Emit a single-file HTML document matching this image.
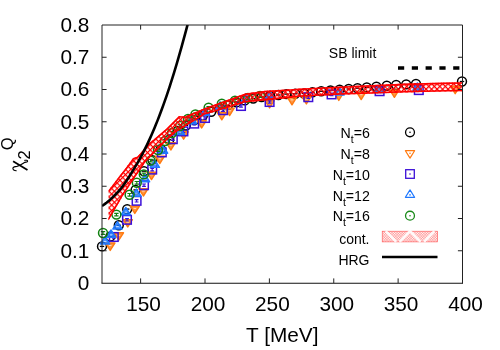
<!DOCTYPE html><html><head><meta charset="utf-8"><style>
html,body{margin:0;padding:0;background:#fff;}body{width:500px;height:350px;overflow:hidden;}
svg{display:block;font-family:"Liberation Sans",sans-serif;}text{filter:grayscale(1);}
</style></head><body>
<svg width="500" height="350" viewBox="0 0 500 350">
<defs><pattern id="hx" width="3.9" height="3.9" patternUnits="userSpaceOnUse" patternTransform="translate(111.65,187.64) rotate(45)"><path d="M0 0H3.9M0 0V3.9" stroke="#ff0000" stroke-width="2.5" fill="none"/></pattern>
<pattern id="hl" width="1.8" height="1.8" patternUnits="userSpaceOnUse" patternTransform="rotate(45)"><path d="M0 0H1.8M0 0V1.8" stroke="#ff2020" stroke-width="0.5" fill="none"/></pattern>
<clipPath id="cp"><rect x="102.0" y="25.0" width="360.5" height="258.0"/></clipPath></defs>
<rect width="500" height="350" fill="#fff"/>
<path d="M99.8 246.4H104.2" stroke="#000000" stroke-width="1.3" fill="none"/><circle cx="102.0" cy="246.4" r="4.45" fill="none" stroke="#000000" stroke-width="1.5"/>
<path d="M108.2 236.5H112.6" stroke="#000000" stroke-width="1.3" fill="none"/><circle cx="110.4" cy="236.5" r="4.45" fill="none" stroke="#000000" stroke-width="1.5"/>
<path d="M116.6 225.3H121.0" stroke="#000000" stroke-width="1.3" fill="none"/><circle cx="118.8" cy="225.3" r="4.45" fill="none" stroke="#000000" stroke-width="1.5"/>
<path d="M125.0 209.1H129.4" stroke="#000000" stroke-width="1.3" fill="none"/><circle cx="127.2" cy="209.1" r="4.45" fill="none" stroke="#000000" stroke-width="1.5"/>
<path d="M133.4 189.9H137.8" stroke="#000000" stroke-width="1.3" fill="none"/><circle cx="135.6" cy="189.9" r="4.45" fill="none" stroke="#000000" stroke-width="1.5"/>
<path d="M141.8 171.2H146.2" stroke="#000000" stroke-width="1.3" fill="none"/><circle cx="144.0" cy="171.2" r="4.45" fill="none" stroke="#000000" stroke-width="1.5"/>
<path d="M150.2 160.1H154.6" stroke="#000000" stroke-width="1.3" fill="none"/><circle cx="152.4" cy="160.1" r="4.45" fill="none" stroke="#000000" stroke-width="1.5"/>
<path d="M158.6 149.1H163.0" stroke="#000000" stroke-width="1.3" fill="none"/><circle cx="160.8" cy="149.1" r="4.45" fill="none" stroke="#000000" stroke-width="1.5"/>
<path d="M167.0 139.7H171.4" stroke="#000000" stroke-width="1.3" fill="none"/><circle cx="169.2" cy="139.7" r="4.45" fill="none" stroke="#000000" stroke-width="1.5"/>
<path d="M175.4 131.0H179.8" stroke="#000000" stroke-width="1.3" fill="none"/><circle cx="177.6" cy="131.0" r="4.45" fill="none" stroke="#000000" stroke-width="1.5"/>
<path d="M183.8 125.5H188.2" stroke="#000000" stroke-width="1.3" fill="none"/><circle cx="186.0" cy="125.5" r="4.45" fill="none" stroke="#000000" stroke-width="1.5"/>
<path d="M192.2 120.0H196.6" stroke="#000000" stroke-width="1.3" fill="none"/><circle cx="194.4" cy="120.0" r="4.45" fill="none" stroke="#000000" stroke-width="1.5"/>
<path d="M200.6 115.7H205.0" stroke="#000000" stroke-width="1.3" fill="none"/><circle cx="202.8" cy="115.7" r="4.45" fill="none" stroke="#000000" stroke-width="1.5"/>
<path d="M209.0 111.7H213.4" stroke="#000000" stroke-width="1.3" fill="none"/><circle cx="211.2" cy="111.7" r="4.45" fill="none" stroke="#000000" stroke-width="1.5"/>
<path d="M217.4 108.2H221.8" stroke="#000000" stroke-width="1.3" fill="none"/><circle cx="219.6" cy="108.2" r="4.45" fill="none" stroke="#000000" stroke-width="1.5"/>
<path d="M225.8 105.3H230.2" stroke="#000000" stroke-width="1.3" fill="none"/><circle cx="228.0" cy="105.3" r="4.45" fill="none" stroke="#000000" stroke-width="1.5"/>
<path d="M234.2 102.4H238.6" stroke="#000000" stroke-width="1.3" fill="none"/><circle cx="236.4" cy="102.4" r="4.45" fill="none" stroke="#000000" stroke-width="1.5"/>
<path d="M242.6 100.4H247.0" stroke="#000000" stroke-width="1.3" fill="none"/><circle cx="244.8" cy="100.4" r="4.45" fill="none" stroke="#000000" stroke-width="1.5"/>
<path d="M251.0 98.5H255.4" stroke="#000000" stroke-width="1.3" fill="none"/><circle cx="253.2" cy="98.5" r="4.45" fill="none" stroke="#000000" stroke-width="1.5"/>
<path d="M259.4 97.0H263.8" stroke="#000000" stroke-width="1.3" fill="none"/><circle cx="261.6" cy="97.0" r="4.45" fill="none" stroke="#000000" stroke-width="1.5"/>
<path d="M267.8 96.0H272.2" stroke="#000000" stroke-width="1.3" fill="none"/><circle cx="270.0" cy="96.0" r="4.45" fill="none" stroke="#000000" stroke-width="1.5"/>
<path d="M276.2 95.0H280.6" stroke="#000000" stroke-width="1.3" fill="none"/><circle cx="278.4" cy="95.0" r="4.45" fill="none" stroke="#000000" stroke-width="1.5"/>
<path d="M284.2 94.1H288.6" stroke="#000000" stroke-width="1.3" fill="none"/><circle cx="286.4" cy="94.1" r="4.45" fill="none" stroke="#000000" stroke-width="1.5"/>
<path d="M293.0 93.8H297.4" stroke="#000000" stroke-width="1.3" fill="none"/><circle cx="295.2" cy="93.8" r="4.45" fill="none" stroke="#000000" stroke-width="1.5"/>
<path d="M301.8 93.5H306.2" stroke="#000000" stroke-width="1.3" fill="none"/><circle cx="304.0" cy="93.5" r="4.45" fill="none" stroke="#000000" stroke-width="1.5"/>
<path d="M310.2 92.3H314.6" stroke="#000000" stroke-width="1.3" fill="none"/><circle cx="312.4" cy="92.3" r="4.45" fill="none" stroke="#000000" stroke-width="1.5"/>
<path d="M319.0 91.3H323.4" stroke="#000000" stroke-width="1.3" fill="none"/><circle cx="321.2" cy="91.3" r="4.45" fill="none" stroke="#000000" stroke-width="1.5"/>
<path d="M328.3 90.5H332.7" stroke="#000000" stroke-width="1.3" fill="none"/><circle cx="330.5" cy="90.5" r="4.45" fill="none" stroke="#000000" stroke-width="1.5"/>
<path d="M337.4 89.8H341.8" stroke="#000000" stroke-width="1.3" fill="none"/><circle cx="339.6" cy="89.8" r="4.45" fill="none" stroke="#000000" stroke-width="1.5"/>
<path d="M346.5 89.0H350.9" stroke="#000000" stroke-width="1.3" fill="none"/><circle cx="348.7" cy="89.0" r="4.45" fill="none" stroke="#000000" stroke-width="1.5"/>
<path d="M355.3 88.2H359.7" stroke="#000000" stroke-width="1.3" fill="none"/><circle cx="357.5" cy="88.2" r="4.45" fill="none" stroke="#000000" stroke-width="1.5"/>
<path d="M364.6 87.4H369.0" stroke="#000000" stroke-width="1.3" fill="none"/><circle cx="366.8" cy="87.4" r="4.45" fill="none" stroke="#000000" stroke-width="1.5"/>
<path d="M374.2 86.6H378.6" stroke="#000000" stroke-width="1.3" fill="none"/><circle cx="376.4" cy="86.6" r="4.45" fill="none" stroke="#000000" stroke-width="1.5"/>
<path d="M384.6 85.7H389.0" stroke="#000000" stroke-width="1.3" fill="none"/><circle cx="386.8" cy="85.7" r="4.45" fill="none" stroke="#000000" stroke-width="1.5"/>
<path d="M394.0 85.0H398.4" stroke="#000000" stroke-width="1.3" fill="none"/><circle cx="396.2" cy="85.0" r="4.45" fill="none" stroke="#000000" stroke-width="1.5"/>
<path d="M404.0 84.4H408.4" stroke="#000000" stroke-width="1.3" fill="none"/><circle cx="406.2" cy="84.4" r="4.45" fill="none" stroke="#000000" stroke-width="1.5"/>
<path d="M413.8 83.9H418.2" stroke="#000000" stroke-width="1.3" fill="none"/><circle cx="416.0" cy="83.9" r="4.45" fill="none" stroke="#000000" stroke-width="1.5"/>
<path d="M459.8 81.5H464.2" stroke="#000000" stroke-width="1.3" fill="none"/><circle cx="462.0" cy="81.5" r="4.45" fill="none" stroke="#000000" stroke-width="1.5"/>
<polygon points="110.2,250.4 105.5,243.0 114.9,243.0" fill="#ff7a10" fill-opacity="0.78" stroke="#ff7a10" stroke-width="1.4" stroke-linejoin="round"/><path d="M108.9 245.5H111.5" stroke="#fff" stroke-opacity="0.7" stroke-width="0.9"/>
<polygon points="118.8,240.2 114.1,232.8 123.5,232.8" fill="#ff7a10" fill-opacity="0.78" stroke="#ff7a10" stroke-width="1.4" stroke-linejoin="round"/><path d="M117.5 235.3H120.1" stroke="#fff" stroke-opacity="0.7" stroke-width="0.9"/>
<polygon points="127.8,227.0 123.1,219.6 132.4,219.6" fill="#ff7a10" fill-opacity="0.78" stroke="#ff7a10" stroke-width="1.4" stroke-linejoin="round"/><path d="M126.5 222.1H129.1" stroke="#fff" stroke-opacity="0.7" stroke-width="0.9"/>
<polygon points="134.8,213.4 130.2,206.0 139.5,206.0" fill="#ff7a10" fill-opacity="0.78" stroke="#ff7a10" stroke-width="1.4" stroke-linejoin="round"/><path d="M133.5 208.5H136.1" stroke="#fff" stroke-opacity="0.7" stroke-width="0.9"/>
<polygon points="143.4,196.0 138.8,188.6 148.1,188.6" fill="#ff7a10" fill-opacity="0.78" stroke="#ff7a10" stroke-width="1.4" stroke-linejoin="round"/><path d="M142.1 191.1H144.7" stroke="#fff" stroke-opacity="0.7" stroke-width="0.9"/>
<polygon points="151.5,179.6 146.8,172.2 156.2,172.2" fill="#ff7a10" fill-opacity="0.78" stroke="#ff7a10" stroke-width="1.4" stroke-linejoin="round"/><path d="M150.2 174.7H152.8" stroke="#fff" stroke-opacity="0.7" stroke-width="0.9"/>
<polygon points="159.8,163.6 155.2,156.2 164.5,156.2" fill="#ff7a10" fill-opacity="0.78" stroke="#ff7a10" stroke-width="1.4" stroke-linejoin="round"/><path d="M158.5 158.7H161.1" stroke="#fff" stroke-opacity="0.7" stroke-width="0.9"/>
<polygon points="170.8,150.0 166.2,142.6 175.5,142.6" fill="#ff7a10" fill-opacity="0.78" stroke="#ff7a10" stroke-width="1.4" stroke-linejoin="round"/><path d="M169.5 145.1H172.1" stroke="#fff" stroke-opacity="0.7" stroke-width="0.9"/>
<polygon points="183.6,139.2 178.9,131.8 188.2,131.8" fill="#ff7a10" fill-opacity="0.78" stroke="#ff7a10" stroke-width="1.4" stroke-linejoin="round"/><path d="M182.3 134.3H184.9" stroke="#fff" stroke-opacity="0.7" stroke-width="0.9"/>
<polygon points="201.7,128.0 197.0,120.6 206.3,120.6" fill="#ff7a10" fill-opacity="0.78" stroke="#ff7a10" stroke-width="1.4" stroke-linejoin="round"/><path d="M200.4 123.1H203.0" stroke="#fff" stroke-opacity="0.7" stroke-width="0.9"/>
<polygon points="221.8,119.8 217.2,112.4 226.5,112.4" fill="#ff7a10" fill-opacity="0.78" stroke="#ff7a10" stroke-width="1.4" stroke-linejoin="round"/><path d="M220.5 114.9H223.1" stroke="#fff" stroke-opacity="0.7" stroke-width="0.9"/>
<polygon points="229.6,115.6 224.9,108.2 234.2,108.2" fill="#ff7a10" fill-opacity="0.78" stroke="#ff7a10" stroke-width="1.4" stroke-linejoin="round"/><path d="M228.3 110.7H230.9" stroke="#fff" stroke-opacity="0.7" stroke-width="0.9"/>
<polygon points="269.6,108.0 265.0,100.6 274.2,100.6" fill="#ff7a10" fill-opacity="0.78" stroke="#ff7a10" stroke-width="1.4" stroke-linejoin="round"/><path d="M268.3 103.1H270.9" stroke="#fff" stroke-opacity="0.7" stroke-width="0.9"/>
<polygon points="292.0,104.8 287.4,97.4 296.6,97.4" fill="#ff7a10" fill-opacity="0.78" stroke="#ff7a10" stroke-width="1.4" stroke-linejoin="round"/><path d="M290.7 99.9H293.3" stroke="#fff" stroke-opacity="0.7" stroke-width="0.9"/>
<polygon points="306.4,104.0 301.8,96.6 311.0,96.6" fill="#ff7a10" fill-opacity="0.78" stroke="#ff7a10" stroke-width="1.4" stroke-linejoin="round"/><path d="M305.1 99.1H307.7" stroke="#fff" stroke-opacity="0.7" stroke-width="0.9"/>
<polygon points="338.8,100.4 334.2,93.0 343.4,93.0" fill="#ff7a10" fill-opacity="0.78" stroke="#ff7a10" stroke-width="1.4" stroke-linejoin="round"/><path d="M337.5 95.5H340.1" stroke="#fff" stroke-opacity="0.7" stroke-width="0.9"/>
<polygon points="361.2,99.6 356.6,92.2 365.8,92.2" fill="#ff7a10" fill-opacity="0.78" stroke="#ff7a10" stroke-width="1.4" stroke-linejoin="round"/><path d="M359.9 94.7H362.5" stroke="#fff" stroke-opacity="0.7" stroke-width="0.9"/>
<polygon points="394.4,97.3 389.8,89.9 399.0,89.9" fill="#ff7a10" fill-opacity="0.78" stroke="#ff7a10" stroke-width="1.4" stroke-linejoin="round"/><path d="M393.1 92.4H395.7" stroke="#fff" stroke-opacity="0.7" stroke-width="0.9"/>
<polygon points="455.2,93.7 450.6,86.3 459.8,86.3" fill="#ff7a10" fill-opacity="0.78" stroke="#ff7a10" stroke-width="1.4" stroke-linejoin="round"/><path d="M453.9 88.8H456.5" stroke="#fff" stroke-opacity="0.7" stroke-width="0.9"/>
<path d="M113.8 235.8V238.2M111.9 235.8H115.7M111.9 238.2H115.7" stroke="#3c10d8" stroke-width="1.2" fill="none"/><rect x="109.5" y="232.7" width="8.6" height="8.6" fill="none" stroke="#3c10d8" stroke-width="1.5"/>
<path d="M127.0 218.6V221.0M125.1 218.6H128.9M125.1 221.0H128.9" stroke="#3c10d8" stroke-width="1.2" fill="none"/><rect x="122.7" y="215.5" width="8.6" height="8.6" fill="none" stroke="#3c10d8" stroke-width="1.5"/>
<path d="M136.6 199.6V202.0M134.7 199.6H138.5M134.7 202.0H138.5" stroke="#3c10d8" stroke-width="1.2" fill="none"/><rect x="132.3" y="196.5" width="8.6" height="8.6" fill="none" stroke="#3c10d8" stroke-width="1.5"/>
<path d="M144.0 184.0V186.4M142.1 184.0H145.9M142.1 186.4H145.9" stroke="#3c10d8" stroke-width="1.2" fill="none"/><rect x="139.7" y="180.9" width="8.6" height="8.6" fill="none" stroke="#3c10d8" stroke-width="1.5"/>
<path d="M152.2 168.4V170.8M150.3 168.4H154.1M150.3 170.8H154.1" stroke="#3c10d8" stroke-width="1.2" fill="none"/><rect x="147.9" y="165.3" width="8.6" height="8.6" fill="none" stroke="#3c10d8" stroke-width="1.5"/>
<path d="M161.8 151.2V153.6M159.9 151.2H163.7M159.9 153.6H163.7" stroke="#3c10d8" stroke-width="1.2" fill="none"/><rect x="157.5" y="148.1" width="8.6" height="8.6" fill="none" stroke="#3c10d8" stroke-width="1.5"/>
<path d="M172.8 138.0V140.4M170.9 138.0H174.7M170.9 140.4H174.7" stroke="#3c10d8" stroke-width="1.2" fill="none"/><rect x="168.5" y="134.9" width="8.6" height="8.6" fill="none" stroke="#3c10d8" stroke-width="1.5"/>
<path d="M183.4 130.2V132.6M181.5 130.2H185.3M181.5 132.6H185.3" stroke="#3c10d8" stroke-width="1.2" fill="none"/><rect x="179.1" y="127.1" width="8.6" height="8.6" fill="none" stroke="#3c10d8" stroke-width="1.5"/>
<path d="M194.2 122.4V124.8M192.3 122.4H196.1M192.3 124.8H196.1" stroke="#3c10d8" stroke-width="1.2" fill="none"/><rect x="189.9" y="119.3" width="8.6" height="8.6" fill="none" stroke="#3c10d8" stroke-width="1.5"/>
<path d="M205.0 116.8V119.2M203.1 116.8H206.9M203.1 119.2H206.9" stroke="#3c10d8" stroke-width="1.2" fill="none"/><rect x="200.7" y="113.7" width="8.6" height="8.6" fill="none" stroke="#3c10d8" stroke-width="1.5"/>
<path d="M223.0 109.0V111.4M221.1 109.0H224.9M221.1 111.4H224.9" stroke="#3c10d8" stroke-width="1.2" fill="none"/><rect x="218.7" y="105.9" width="8.6" height="8.6" fill="none" stroke="#3c10d8" stroke-width="1.5"/>
<path d="M241.0 104.8V107.2M239.1 104.8H242.9M239.1 107.2H242.9" stroke="#3c10d8" stroke-width="1.2" fill="none"/><rect x="236.7" y="101.7" width="8.6" height="8.6" fill="none" stroke="#3c10d8" stroke-width="1.5"/>
<path d="M269.6 100.8V103.2M267.7 100.8H271.5M267.7 103.2H271.5" stroke="#3c10d8" stroke-width="1.2" fill="none"/><rect x="265.3" y="97.7" width="8.6" height="8.6" fill="none" stroke="#3c10d8" stroke-width="1.5"/>
<path d="M308.3 96.0V98.4M306.4 96.0H310.2M306.4 98.4H310.2" stroke="#3c10d8" stroke-width="1.2" fill="none"/><rect x="304.0" y="92.9" width="8.6" height="8.6" fill="none" stroke="#3c10d8" stroke-width="1.5"/>
<path d="M331.6 93.2V95.6M329.7 93.2H333.5M329.7 95.6H333.5" stroke="#3c10d8" stroke-width="1.2" fill="none"/><rect x="327.3" y="90.1" width="8.6" height="8.6" fill="none" stroke="#3c10d8" stroke-width="1.5"/>
<path d="M379.6 90.0V92.4M377.7 90.0H381.5M377.7 92.4H381.5" stroke="#3c10d8" stroke-width="1.2" fill="none"/><rect x="375.3" y="86.9" width="8.6" height="8.6" fill="none" stroke="#3c10d8" stroke-width="1.5"/>
<path d="M418.8 88.9V91.3M416.9 88.9H420.7M416.9 91.3H420.7" stroke="#3c10d8" stroke-width="1.2" fill="none"/><rect x="414.5" y="85.8" width="8.6" height="8.6" fill="none" stroke="#3c10d8" stroke-width="1.5"/>
<polygon points="105.0,236.6 100.3,244.0 109.7,244.0" fill="#1e78ff" fill-opacity="0.78" stroke="#1e78ff" stroke-width="1.4" stroke-linejoin="round"/><path d="M103.7 241.5H106.3" stroke="#fff" stroke-opacity="0.7" stroke-width="0.9"/>
<polygon points="111.0,230.0 106.3,237.4 115.7,237.4" fill="#1e78ff" fill-opacity="0.78" stroke="#1e78ff" stroke-width="1.4" stroke-linejoin="round"/><path d="M109.7 234.9H112.3" stroke="#fff" stroke-opacity="0.7" stroke-width="0.9"/>
<polygon points="117.4,221.6 112.8,229.0 122.1,229.0" fill="#1e78ff" fill-opacity="0.78" stroke="#1e78ff" stroke-width="1.4" stroke-linejoin="round"/><path d="M116.1 226.5H118.7" stroke="#fff" stroke-opacity="0.7" stroke-width="0.9"/>
<polygon points="125.8,207.4 121.1,214.8 130.4,214.8" fill="#1e78ff" fill-opacity="0.78" stroke="#1e78ff" stroke-width="1.4" stroke-linejoin="round"/><path d="M124.5 212.3H127.1" stroke="#fff" stroke-opacity="0.7" stroke-width="0.9"/>
<polygon points="136.4,189.0 131.8,196.4 141.1,196.4" fill="#1e78ff" fill-opacity="0.78" stroke="#1e78ff" stroke-width="1.4" stroke-linejoin="round"/><path d="M135.1 193.9H137.7" stroke="#fff" stroke-opacity="0.7" stroke-width="0.9"/>
<polygon points="145.0,174.4 140.3,181.8 149.7,181.8" fill="#1e78ff" fill-opacity="0.78" stroke="#1e78ff" stroke-width="1.4" stroke-linejoin="round"/><path d="M143.7 179.3H146.3" stroke="#fff" stroke-opacity="0.7" stroke-width="0.9"/>
<polygon points="154.8,160.0 150.2,167.4 159.5,167.4" fill="#1e78ff" fill-opacity="0.78" stroke="#1e78ff" stroke-width="1.4" stroke-linejoin="round"/><path d="M153.5 164.9H156.1" stroke="#fff" stroke-opacity="0.7" stroke-width="0.9"/>
<polygon points="163.0,145.8 158.3,153.2 167.7,153.2" fill="#1e78ff" fill-opacity="0.78" stroke="#1e78ff" stroke-width="1.4" stroke-linejoin="round"/><path d="M161.7 150.7H164.3" stroke="#fff" stroke-opacity="0.7" stroke-width="0.9"/>
<polygon points="179.8,127.2 175.2,134.6 184.5,134.6" fill="#1e78ff" fill-opacity="0.78" stroke="#1e78ff" stroke-width="1.4" stroke-linejoin="round"/><path d="M178.5 132.1H181.1" stroke="#fff" stroke-opacity="0.7" stroke-width="0.9"/>
<polygon points="192.0,116.4 187.3,123.8 196.7,123.8" fill="#1e78ff" fill-opacity="0.78" stroke="#1e78ff" stroke-width="1.4" stroke-linejoin="round"/><path d="M190.7 121.3H193.3" stroke="#fff" stroke-opacity="0.7" stroke-width="0.9"/>
<polygon points="205.0,107.9 200.3,115.3 209.7,115.3" fill="#1e78ff" fill-opacity="0.78" stroke="#1e78ff" stroke-width="1.4" stroke-linejoin="round"/><path d="M203.7 112.8H206.3" stroke="#fff" stroke-opacity="0.7" stroke-width="0.9"/>
<polygon points="220.0,101.9 215.3,109.3 224.7,109.3" fill="#1e78ff" fill-opacity="0.78" stroke="#1e78ff" stroke-width="1.4" stroke-linejoin="round"/><path d="M218.7 106.8H221.3" stroke="#fff" stroke-opacity="0.7" stroke-width="0.9"/>
<polygon points="246.0,93.9 241.3,101.3 250.7,101.3" fill="#1e78ff" fill-opacity="0.78" stroke="#1e78ff" stroke-width="1.4" stroke-linejoin="round"/><path d="M244.7 98.8H247.3" stroke="#fff" stroke-opacity="0.7" stroke-width="0.9"/>
<polygon points="270.0,90.9 265.4,98.3 274.6,98.3" fill="#1e78ff" fill-opacity="0.78" stroke="#1e78ff" stroke-width="1.4" stroke-linejoin="round"/><path d="M268.7 95.8H271.3" stroke="#fff" stroke-opacity="0.7" stroke-width="0.9"/>
<polygon points="339.6,87.6 335.0,95.0 344.2,95.0" fill="#1e78ff" fill-opacity="0.78" stroke="#1e78ff" stroke-width="1.4" stroke-linejoin="round"/><path d="M338.3 92.5H340.9" stroke="#fff" stroke-opacity="0.7" stroke-width="0.9"/>
<polygon points="378.8,85.2 374.2,92.6 383.4,92.6" fill="#1e78ff" fill-opacity="0.78" stroke="#1e78ff" stroke-width="1.4" stroke-linejoin="round"/><path d="M377.5 90.1H380.1" stroke="#fff" stroke-opacity="0.7" stroke-width="0.9"/>
<polygon points="417.4,82.9 412.8,90.3 422.0,90.3" fill="#1e78ff" fill-opacity="0.78" stroke="#1e78ff" stroke-width="1.4" stroke-linejoin="round"/><path d="M416.1 87.8H418.7" stroke="#fff" stroke-opacity="0.7" stroke-width="0.9"/>
<path d="M103.0 231.7V234.3M100.8 231.7H105.2M100.8 234.3H105.2" stroke="#108010" stroke-width="1.2" fill="none"/><circle cx="103.0" cy="233.0" r="4.45" fill="none" stroke="#108010" stroke-width="1.5"/>
<path d="M116.4 213.3V215.9M114.2 213.3H118.6M114.2 215.9H118.6" stroke="#108010" stroke-width="1.2" fill="none"/><circle cx="116.4" cy="214.6" r="4.45" fill="none" stroke="#108010" stroke-width="1.5"/>
<path d="M129.6 193.5V196.1M127.4 193.5H131.8M127.4 196.1H131.8" stroke="#108010" stroke-width="1.2" fill="none"/><circle cx="129.6" cy="194.8" r="4.45" fill="none" stroke="#108010" stroke-width="1.5"/>
<path d="M136.8 181.5V184.1M134.6 181.5H139.0M134.6 184.1H139.0" stroke="#108010" stroke-width="1.2" fill="none"/><circle cx="136.8" cy="182.8" r="4.45" fill="none" stroke="#108010" stroke-width="1.5"/>
<path d="M143.8 173.1V175.7M141.6 173.1H146.0M141.6 175.7H146.0" stroke="#108010" stroke-width="1.2" fill="none"/><circle cx="143.8" cy="174.4" r="4.45" fill="none" stroke="#108010" stroke-width="1.5"/>
<path d="M150.6 159.3V161.9M148.4 159.3H152.8M148.4 161.9H152.8" stroke="#108010" stroke-width="1.2" fill="none"/><circle cx="150.6" cy="160.6" r="4.45" fill="none" stroke="#108010" stroke-width="1.5"/>
<path d="M158.0 148.7V151.3M155.8 148.7H160.2M155.8 151.3H160.2" stroke="#108010" stroke-width="1.2" fill="none"/><circle cx="158.0" cy="150.0" r="4.45" fill="none" stroke="#108010" stroke-width="1.5"/>
<path d="M165.0 139.7V142.3M162.8 139.7H167.2M162.8 142.3H167.2" stroke="#108010" stroke-width="1.2" fill="none"/><circle cx="165.0" cy="141.0" r="4.45" fill="none" stroke="#108010" stroke-width="1.5"/>
<path d="M172.0 131.7V134.3M169.8 131.7H174.2M169.8 134.3H174.2" stroke="#108010" stroke-width="1.2" fill="none"/><circle cx="172.0" cy="133.0" r="4.45" fill="none" stroke="#108010" stroke-width="1.5"/>
<path d="M180.0 124.7V127.3M177.8 124.7H182.2M177.8 127.3H182.2" stroke="#108010" stroke-width="1.2" fill="none"/><circle cx="180.0" cy="126.0" r="4.45" fill="none" stroke="#108010" stroke-width="1.5"/>
<path d="M188.0 117.7V120.3M185.8 117.7H190.2M185.8 120.3H190.2" stroke="#108010" stroke-width="1.2" fill="none"/><circle cx="188.0" cy="119.0" r="4.45" fill="none" stroke="#108010" stroke-width="1.5"/>
<path d="M195.4 113.1V115.7M193.2 113.1H197.6M193.2 115.7H197.6" stroke="#108010" stroke-width="1.2" fill="none"/><circle cx="195.4" cy="114.4" r="4.45" fill="none" stroke="#108010" stroke-width="1.5"/>
<path d="M208.6 106.5V109.1M206.4 106.5H210.8M206.4 109.1H210.8" stroke="#108010" stroke-width="1.2" fill="none"/><circle cx="208.6" cy="107.8" r="4.45" fill="none" stroke="#108010" stroke-width="1.5"/>
<path d="M221.8 102.3V104.9M219.6 102.3H224.0M219.6 104.9H224.0" stroke="#108010" stroke-width="1.2" fill="none"/><circle cx="221.8" cy="103.6" r="4.45" fill="none" stroke="#108010" stroke-width="1.5"/>
<path d="M235.0 99.3V101.9M232.8 99.3H237.2M232.8 101.9H237.2" stroke="#108010" stroke-width="1.2" fill="none"/><circle cx="235.0" cy="100.6" r="4.45" fill="none" stroke="#108010" stroke-width="1.5"/>
<path d="M248.0 96.7V99.3M245.8 96.7H250.2M245.8 99.3H250.2" stroke="#108010" stroke-width="1.2" fill="none"/><circle cx="248.0" cy="98.0" r="4.45" fill="none" stroke="#108010" stroke-width="1.5"/>
<path d="M260.0 94.7V97.3M257.8 94.7H262.2M257.8 97.3H262.2" stroke="#108010" stroke-width="1.2" fill="none"/><circle cx="260.0" cy="96.0" r="4.45" fill="none" stroke="#108010" stroke-width="1.5"/>
<clipPath id="bc"><polygon points="108.5,190.3 119.8,175.5 124.8,169.2 133,158 137.5,156.5 149,143 153,140 166,129 179,116 185,116.5 190,114.3 205,108 225,100.8 245,93.6 265,90.8 290,89.2 300,88.4 340,86.4 405,83.6 445,82.6 462.4,82.2 462.4,91.3 445,91.6 405,92.5 340,94.8 300,96.8 290,97.9 265,100.4 245,102.4 225,108.8 205,114.5 195,120.5 185,126.5 175,133 167,140 153.5,154 145.5,162 135.3,177 122.8,196 108.5,220.5"/></clipPath>
<polygon points="108.5,190.3 119.8,175.5 124.8,169.2 133,158 137.5,156.5 149,143 153,140 166,129 179,116 185,116.5 190,114.3 205,108 225,100.8 245,93.6 265,90.8 290,89.2 300,88.4 340,86.4 405,83.6 445,82.6 462.4,82.2 462.4,91.3 445,91.6 405,92.5 340,94.8 300,96.8 290,97.9 265,100.4 245,102.4 225,108.8 205,114.5 195,120.5 185,126.5 175,133 167,140 153.5,154 145.5,162 135.3,177 122.8,196 108.5,220.5" fill="url(#hx)" stroke="none"/>
<g clip-path="url(#bc)">
<polyline points="108.5,190.3 119.8,175.5 124.8,169.2 133,158 137.5,156.5 149,143 153,140 166,129 179,116 185,116.5 190,114.3 205,108 225,100.8 245,93.6 265,90.8 290,89.2 300,88.4 340,86.4 405,83.6 445,82.6 462.4,82.2" fill="none" stroke="#ff0000" stroke-width="3.2" stroke-linejoin="round"/>
<polyline points="108.5,220.5 122.8,196 135.3,177 145.5,162 153.5,154 167,140 175,133 185,126.5 195,120.5 205,114.5 225,108.8 245,102.4 265,100.4 290,97.9 300,96.8 340,94.8 405,92.5 445,91.6 462.4,91.3" fill="none" stroke="#ff0000" stroke-width="3.2" stroke-linejoin="round"/>
</g>
<g clip-path="url(#cp)">
<polyline points="102.0,206.06 103.5,205.0 105.0,203.88 106.5,202.72 108.0,201.49 109.5,200.21 111.0,198.87 112.5,197.48 114.0,196.02 115.5,194.51 117.0,192.93 118.5,191.29 120.0,189.59 121.5,187.82 123.0,185.84 124.5,183.72 126.0,181.53 127.5,179.27 129.0,176.94 130.5,174.53 132.0,172.05 133.5,169.57 135.0,167.15 136.5,164.66 138.0,162.08 139.5,159.42 141.0,156.68 142.5,153.85 144.0,150.94 145.5,147.94 147.0,144.85 148.5,141.67 150.0,138.39 151.5,135.03 153.0,131.57 154.5,128.01 156.0,124.36 157.5,120.62 159.0,116.77 160.5,112.82 162.0,108.78 163.5,104.64 165.0,100.39 166.5,96.05 168.0,91.6 169.5,87.05 171.0,82.41 172.5,77.66 174.0,72.81 175.5,67.87 177.0,62.83 178.5,57.69 180.0,52.45 181.5,47.13 183.0,41.71 184.5,36.2 186.0,30.61 187.5,24.93 189.0,19.18 190.5,13.34" fill="none" stroke="#000" stroke-width="2.6" stroke-linejoin="round"/>
</g>
<line x1="398" y1="68" x2="462" y2="68" stroke="#000" stroke-width="3.4" stroke-dasharray="6.2 7.6"/>
<path d="M102.0 283.25V25.0H462.5V283.25" fill="none" stroke="#222" stroke-width="1"/><path d="M101.5 283.25H463.0" fill="none" stroke="#111" stroke-width="1.1"/>
<text x="89.3" y="289.9" font-size="20.8" text-anchor="end" fill="#000">0</text>
<path d="M102.0 250.75h4.6M462.5 250.75h-4.6" stroke="#222" stroke-width="1"/>
<text x="89.3" y="257.6" font-size="20.8" text-anchor="end" fill="#000">0.1</text>
<path d="M102.0 218.50h4.6M462.5 218.50h-4.6" stroke="#222" stroke-width="1"/>
<text x="89.3" y="225.4" font-size="20.8" text-anchor="end" fill="#000">0.2</text>
<path d="M102.0 186.25h4.6M462.5 186.25h-4.6" stroke="#222" stroke-width="1"/>
<text x="89.3" y="193.2" font-size="20.8" text-anchor="end" fill="#000">0.3</text>
<path d="M102.0 154.00h4.6M462.5 154.00h-4.6" stroke="#222" stroke-width="1"/>
<text x="89.3" y="160.9" font-size="20.8" text-anchor="end" fill="#000">0.4</text>
<path d="M102.0 121.75h4.6M462.5 121.75h-4.6" stroke="#222" stroke-width="1"/>
<text x="89.3" y="128.7" font-size="20.8" text-anchor="end" fill="#000">0.5</text>
<path d="M102.0 89.50h4.6M462.5 89.50h-4.6" stroke="#222" stroke-width="1"/>
<text x="89.3" y="96.4" font-size="20.8" text-anchor="end" fill="#000">0.6</text>
<path d="M102.0 57.25h4.6M462.5 57.25h-4.6" stroke="#222" stroke-width="1"/>
<text x="89.3" y="64.2" font-size="20.8" text-anchor="end" fill="#000">0.7</text>
<text x="89.3" y="31.9" font-size="20.8" text-anchor="end" fill="#000">0.8</text>
<path d="M140.62 283.0v-4.6M140.62 25.0v4.6" stroke="#222" stroke-width="1"/>
<text x="143.6" y="311.3" font-size="20.8" text-anchor="middle" fill="#000">150</text>
<path d="M205.00 283.0v-4.6M205.00 25.0v4.6" stroke="#222" stroke-width="1"/>
<text x="208.0" y="311.3" font-size="20.8" text-anchor="middle" fill="#000">200</text>
<path d="M269.38 283.0v-4.6M269.38 25.0v4.6" stroke="#222" stroke-width="1"/>
<text x="272.4" y="311.3" font-size="20.8" text-anchor="middle" fill="#000">250</text>
<path d="M333.75 283.0v-4.6M333.75 25.0v4.6" stroke="#222" stroke-width="1"/>
<text x="336.8" y="311.3" font-size="20.8" text-anchor="middle" fill="#000">300</text>
<path d="M398.12 283.0v-4.6M398.12 25.0v4.6" stroke="#222" stroke-width="1"/>
<text x="401.1" y="311.3" font-size="20.8" text-anchor="middle" fill="#000">350</text>
<path d="M462.50 283.0v-4.6M462.50 25.0v4.6" stroke="#222" stroke-width="1"/>
<text x="465.5" y="311.3" font-size="20.8" text-anchor="middle" fill="#000">400</text>
<text x="282.3" y="342" font-size="20.8" text-anchor="middle" fill="#000">T [MeV]</text>
<g transform="rotate(-90)"><text x="-159.5" y="30" font-size="16.5" fill="#000">2</text><text x="-150.3" y="13.3" font-size="16.5" fill="#000">Q</text></g>
<path d="M13.1 161.3L27.5 169.9" stroke="#000" stroke-width="1.8" fill="none"/><path d="M16.2 170.7C14.2 170.6 12.7 169.6 12.9 168.2C13.1 166.9 14.8 166.6 16.9 166.4C20 166 22 164 24 162.8C25.6 161.9 27.6 162.4 27.6 161.2C27.6 160.2 26.3 160.1 24.8 160.3" stroke="#000" stroke-width="1.15" fill="none" stroke-linecap="round"/>
<text x="376.3" y="57.6" font-size="14.0" text-anchor="end" fill="#000">SB limit</text>
<text x="369.9" y="138.0" font-size="14.2" text-anchor="end" fill="#000">N<tspan font-size="10.5" dy="4.9">t</tspan><tspan dy="-4.9">=6</tspan></text>
<text x="369.9" y="158.8" font-size="14.2" text-anchor="end" fill="#000">N<tspan font-size="10.5" dy="4.9">t</tspan><tspan dy="-4.9">=8</tspan></text>
<text x="369.9" y="179.7" font-size="14.2" text-anchor="end" fill="#000">N<tspan font-size="10.5" dy="4.9">t</tspan><tspan dy="-4.9">=10</tspan></text>
<text x="369.9" y="200.6" font-size="14.2" text-anchor="end" fill="#000">N<tspan font-size="10.5" dy="4.9">t</tspan><tspan dy="-4.9">=12</tspan></text>
<text x="369.9" y="221.4" font-size="14.2" text-anchor="end" fill="#000">N<tspan font-size="10.5" dy="4.9">t</tspan><tspan dy="-4.9">=16</tspan></text>
<circle cx="410.0" cy="132.3" r="4.45" fill="none" stroke="#000000" stroke-width="1.3"/><circle cx="410.0" cy="132.3" r="0.8" fill="#000000"/>
<polygon points="410.0,158.1 405.4,150.7 414.6,150.7" fill="none" stroke="#ff7a10" stroke-width="1.2" stroke-linejoin="round"/><circle cx="410.0" cy="153.2" r="0.8" fill="#ff7a10"/>
<rect x="405.7" y="169.7" width="8.6" height="8.6" fill="none" stroke="#3c10d8" stroke-width="1.3"/><circle cx="410.0" cy="174.0" r="0.8" fill="#3c10d8"/>
<polygon points="410.0,189.9 405.4,197.3 414.6,197.3" fill="none" stroke="#1e78ff" stroke-width="1.2" stroke-linejoin="round"/><circle cx="410.0" cy="194.9" r="0.8" fill="#1e78ff"/>
<circle cx="410.0" cy="215.7" r="4.45" fill="none" stroke="#1a8a1a" stroke-width="1.3"/><circle cx="410.0" cy="215.7" r="0.8" fill="#1a8a1a"/>
<text x="369.5" y="243.7" font-size="14.0" text-anchor="end" fill="#000">cont.</text>
<rect x="382.2" y="231.2" width="55.4" height="10.7" fill="url(#hl)" stroke="#ff5050" stroke-width="0.6"/>
<path d="M385.7 231.2L396.2 241.9M399.6 241.9L410 231.2L420.6 241.9M424 241.9L434.4 231.2" stroke="#fff" stroke-opacity="0.9" stroke-width="2.6" fill="none"/>
<text x="369.5" y="264.5" font-size="14.0" text-anchor="end" fill="#000">HRG</text>
<line x1="382" y1="257" x2="437.5" y2="257" stroke="#000" stroke-width="2.6"/>
</svg></body></html>
